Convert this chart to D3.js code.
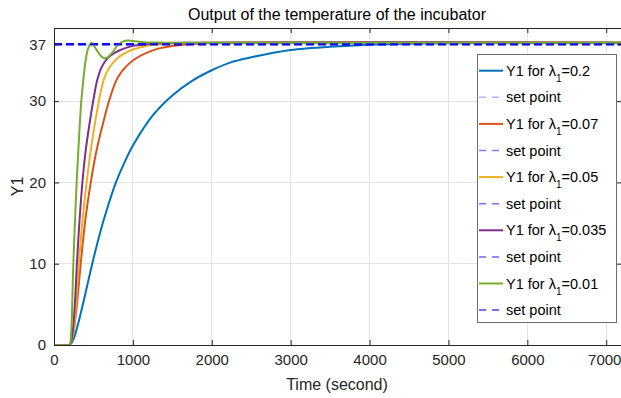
<!DOCTYPE html>
<html>
<head>
<meta charset="utf-8">
<script src="https://cdn.jsdelivr.net/npm/d3@7"></script>
<style>
  body { margin: 0; background: #fff; }
  svg { display: block; font-family: "Liberation Sans", Arial, sans-serif; }
</style>
</head>
<body>
<div id="chart"></div>
<script>
// values (time in seconds, Y1 in degrees)
const lambdas = ['0.2', '0.07', '0.05', '0.035', '0.01'];
const seriesColors = ['#0072BD', '#D95319', '#EDB120', '#7E2F8E', '#77AC30'];

const tBlue = [0, 100, 185, 200, 250, 300, 371, 430, 485, 570, 646, 785, 900, 1004, 1257, 1500, 1750, 2000, 2250, 2500, 2750, 3000, 3500, 4000, 4500, 5000, 6000, 7200];
const yBlue = [0, 0, 0, 0, 0.8, 2.4, 5.2, 7.7, 10, 13.3, 15.9, 20, 22.6, 24.6, 28.3, 30.7, 32.5, 33.8, 34.8, 35.4, 35.9, 36.3, 36.7, 36.95, 37.06, 37.13, 37.18, 37.2];

const tOrange = [0, 100, 185, 200, 240, 280, 310, 340, 400, 466, 530, 612, 700, 814, 1000, 1300, 1600, 2000, 2500, 7200];
const yOrange = [0, 0, 0, 0, 1.2, 4, 7, 10.2, 15.6, 20, 23.5, 26.9, 30.1, 33, 35, 36.4, 36.9, 37.15, 37.2, 37.2];

const tYellow = [0, 100, 185, 200, 235, 265, 290, 315, 360, 414, 461, 511, 561, 600, 640, 700, 793, 900, 1000, 1200, 1500, 2000, 7200];
const yYellow = [0, 0, 0, 0, 1.0, 3.3, 6.5, 10, 15.2, 20, 23.6, 26.8, 29.6, 31.5, 32.9, 34.1, 35.2, 35.9, 36.35, 36.85, 37.1, 37.2, 37.2];

const tPurple = [0, 100, 185, 200, 225, 250, 270, 290, 325, 360, 400, 450, 500, 548, 600, 680, 780, 857, 1000, 1300, 1800, 7200];
const yPurple = [0, 0, 0, 0, 0.8, 3, 6, 10, 15.5, 20, 23.8, 27.2, 30.2, 32.6, 34.1, 35.3, 36.0, 36.35, 36.8, 37.1, 37.2, 37.2];

const tGreen = [0, 100, 185, 200, 220, 245, 287, 320, 346, 376, 401, 430, 477, 520, 561, 600, 633, 680, 740, 800, 860, 928, 1000, 1150, 1400, 7200];
const yGreen = [0, 0, 0, 0, 2, 10, 20, 26, 30, 33, 35, 36.4, 37.2, 36.6, 36.0, 35.5, 35.3, 35.4, 36.0, 36.8, 37.25, 37.45, 37.4, 37.25, 37.2, 37.2];

const setPoint = 37;
const setPointTime = [0, 7200];

const xTicks = [0, 1000, 2000, 3000, 4000, 5000, 6000, 7000];
const yTicks = [0, 10, 20, 30, 37];

const seriesT = [tBlue, tOrange, tYellow, tPurple, tGreen];
const seriesY = [yBlue, yOrange, yYellow, yPurple, yGreen];

const W = 621, H = 398;
const margin = { top: 28, right: -1, bottom: 53, left: 54 };
const width = W - margin.left - margin.right;
const height = H - margin.top - margin.bottom;
const ink = '#262626';

const svg = d3.select('#chart').append('svg')
  .attr('width', W)
  .attr('height', H);

const g = svg.append('g').attr('transform', `translate(${margin.left},${margin.top})`);

const x = d3.scaleLinear().domain([0, 7200]).range([0, width]);
const y = d3.scaleLinear().domain([0, 39]).range([height, 0]);

// grid
g.append('g')
  .selectAll('line')
  .data(xTicks.slice(1))
  .join('line')
  .attr('x1', d => x(d)).attr('x2', d => x(d))
  .attr('y1', 0).attr('y2', height)
  .attr('stroke', '#e3e3e3')
  .attr('shape-rendering', 'crispEdges');
g.append('g')
  .selectAll('line')
  .data(yTicks.slice(1))
  .join('line')
  .attr('x1', 0).attr('x2', width)
  .attr('y1', d => y(d)).attr('y2', d => y(d))
  .attr('stroke', '#e3e3e3')
  .attr('shape-rendering', 'crispEdges');

svg.append('clipPath').attr('id', 'clip')
  .append('rect').attr('x', 0).attr('y', -2).attr('width', width).attr('height', height + 1.5);

const plot = g.append('g').attr('clip-path', 'url(#clip)');

const line = d3.line()
  .x(d => x(d[0]))
  .y(d => y(d[1]))
  .curve(d3.curveCatmullRom.alpha(0.5));

const spAlpha = [0.3, 0.5, 0.55, 0.6, 0.75];

seriesT.forEach((ts, i) => {
  const pts = ts.map((t, j) => [t, seriesY[i][j]]);
  plot.append('path')
    .datum(pts)
    .attr('fill', 'none')
    .attr('stroke', seriesColors[i])
    .attr('stroke-width', 2)
    .attr('d', line);

  plot.append('path')
    .datum(setPointTime.map(t => [t, setPoint]))
    .attr('fill', 'none')
    .attr('stroke', '#0000ff')
    .attr('stroke-opacity', spAlpha[i])
    .attr('stroke-width', 2)
    .attr('stroke-dasharray', '8,4')
    .attr('d', d3.line().x(d => x(d[0])).y(d => y(d[1])));
});

// axes (MATLAB style: ticks inside, box on)
const styleAxis = sel => {
  sel.selectAll('.domain').attr('stroke', ink);
  sel.selectAll('.tick line').attr('stroke', ink);
  sel.selectAll('text').attr('fill', ink).attr('font-size', 15);
};

const xAxisG = g.append('g')
  .attr('transform', `translate(0,${height})`)
  .call(d3.axisBottom(x).tickValues(xTicks).tickSize(-5).tickSizeOuter(0).tickPadding(9).tickFormat(d3.format('d')))
  .call(styleAxis);
// last label sits at the right edge of the window: nudge it inside
xAxisG.selectAll('.tick text').filter(d => d === 7000).attr('dx', -2);

g.append('g')
  .call(d3.axisTop(x).tickValues(xTicks).tickSize(-5).tickSizeOuter(0).tickFormat(''))
  .call(styleAxis);

g.append('g')
  .call(d3.axisLeft(y).tickValues(yTicks).tickSize(-5).tickSizeOuter(0).tickPadding(8))
  .call(styleAxis);

g.append('g')
  .attr('transform', `translate(${width},0)`)
  .call(d3.axisRight(y).tickValues(yTicks).tickSize(-5).tickSizeOuter(0).tickFormat(''))
  .call(styleAxis);

// labels
svg.append('text')
  .attr('x', margin.left + width / 2 - 1)
  .attr('y', 20)
  .attr('text-anchor', 'middle')
  .attr('font-size', 16)
  .attr('fill', '#000')
  .text('Output of the temperature of the incubator');

svg.append('text')
  .attr('x', margin.left + width / 2 - 1)
  .attr('y', 390)
  .attr('text-anchor', 'middle')
  .attr('font-size', 16)
  .attr('fill', ink)
  .text('Time (second)');

svg.append('text')
  .attr('transform', `translate(23,${margin.top + height / 2}) rotate(-90)`)
  .attr('text-anchor', 'middle')
  .attr('font-size', 16)
  .attr('fill', ink)
  .text('Y1');

// legend
const lg = svg.append('g').attr('transform', 'translate(477,54)');
lg.append('rect')
  .attr('x', 0.5).attr('y', 0.5)
  .attr('width', 139).attr('height', 268)
  .attr('fill', '#fff')
  .attr('stroke', '#6e6e6e');

const rowH = 26.6;
lambdas.forEach((lam, i) => {
  const cy1 = 16.7 + rowH * (2 * i);
  const cy2 = cy1 + rowH;

  lg.append('line')
    .attr('x1', 2).attr('x2', 26)
    .attr('y1', cy1).attr('y2', cy1)
    .attr('stroke', seriesColors[i])
    .attr('stroke-width', 2);
  const t = lg.append('text')
    .attr('x', 29).attr('y', cy1 + 5)
    .attr('font-size', 14.5)
    .attr('fill', '#000');
  t.append('tspan').text('Y1 for λ');
  t.append('tspan').attr('font-size', 10).attr('dy', 6).text('1');
  t.append('tspan').attr('dy', -6).text('=' + lam);

  lg.append('line')
    .attr('x1', 2).attr('x2', 26)
    .attr('y1', cy2).attr('y2', cy2)
    .attr('stroke', '#0000ff')
    .attr('stroke-opacity', spAlpha[i])
    .attr('stroke-width', 1.5)
    .attr('stroke-dasharray', '7,6');
  lg.append('text')
    .attr('x', 29).attr('y', cy2 + 5)
    .attr('font-size', 14.5)
    .attr('fill', '#000')
    .text('set point');
});
</script>
</body>
</html>
